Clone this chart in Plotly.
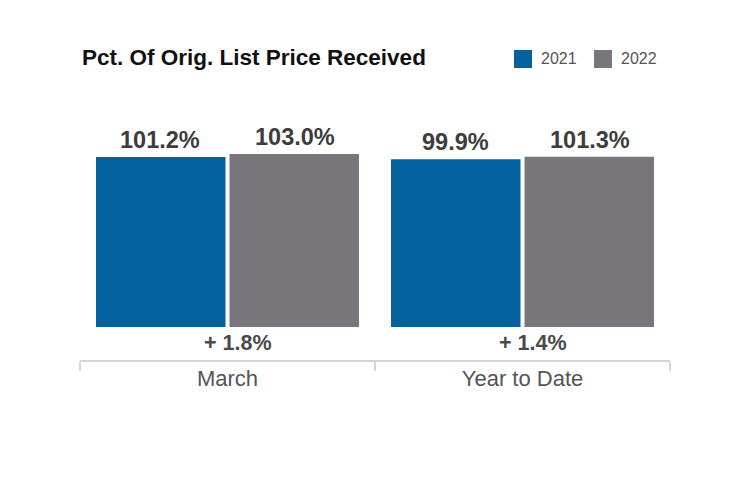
import plotly.graph_objects as go

categories = ["March", "Year to Date"]
series_names = ["2021", "2022"]
values_2021 = [101.2, 99.9]
values_2022 = [103.0, 101.3]
change_labels = ["+ 1.8%", "+ 1.4%"]
title_text = "Pct. Of Orig. List Price Received"

BLUE = "#0462A0"
GRAY = "#78767B"
colors = [BLUE, GRAY]

# page offset (body margin) compensation
OFF = 8
PL, PR, PT, PB = 80 - OFF, 670 - OFF, 100 - OFF, 360 - OFF  # plot area in figure px
W, H = 754, 486

def px_x(x):
    return (x - OFF - PL) / (PR - PL)

def px_y(y):
    return (PB - (y - OFF)) / (PB - PT)

fig = go.Figure()
for name, vals, col in zip(series_names, [values_2021, values_2022], colors):
    fig.add_trace(go.Bar(
        x=categories, y=vals, name=name, marker=dict(color=col, line=dict(width=0)),
        showlegend=False, hoverinfo="skip",
    ))

# value labels above bars
offsets = [-0.2275, 0.2275]
for vals, off in zip([values_2021, values_2022], offsets):
    for i, v in enumerate(vals):
        fig.add_annotation(
            x=i + off, y=v, xref="x", yref="y", text=f"{v:.1f}%",
            showarrow=False, yanchor="bottom", yshift=2,
            font=dict(family="Liberation Sans, Arial, sans-serif", size=23.5, color="#3d3d3d", weight="bold"),
        )

# change labels under groups
for i, t in enumerate(change_labels):
    fig.add_annotation(
        x=i, y=0, xref="x", yref="y", text=t, showarrow=False,
        yanchor="middle", yshift=-16, xshift=10,
        font=dict(family="Liberation Sans, Arial, sans-serif", size=21.5, color="#4a4a4a", weight="bold"),
    )

# title
fig.add_annotation(
    x=px_x(80), y=px_y(58), xref="paper", yref="paper", text=title_text, showarrow=False,
    xanchor="left", yanchor="middle",
    font=dict(family="Liberation Sans Narrow, Arial Narrow, Liberation Sans, sans-serif",
              size=22.5, color="#111111", weight="bold"),
)

# legend (manual)
leg_x = [514, 594]
for name, col, lx in zip(series_names, colors, leg_x):
    fig.add_shape(type="rect", xref="paper", yref="paper",
                  x0=px_x(lx), x1=px_x(lx + 18),
                  y0=px_y(68), y1=px_y(50),
                  fillcolor=col, line=dict(width=0))
    fig.add_annotation(x=px_x(lx + 25), y=px_y(59), xref="paper", yref="paper",
                       text=name, showarrow=False, xanchor="left", yanchor="middle",
                       font=dict(family="Liberation Sans, Arial, sans-serif",
                                 size=16, color="#555555"))

scale = 1.68
y0 = -33 / scale
y1 = y0 + (PB - PT) / scale

fig.update_layout(
    width=W, height=H,
    margin=dict(l=PL, r=W - PR, t=PT, b=H - PB),
    plot_bgcolor="white", paper_bgcolor="white",
    barmode="group", bargap=0.095, bargroupgap=0.03,
    xaxis=dict(
        showline=True, linecolor="#d4d4d4", linewidth=2,
        ticks="outside", tickson="boundaries", ticklen=9, tickcolor="#d4d4d4", tickwidth=2,
        showgrid=False, range=[-0.5, 1.5], ticklabelstandoff=-2,
        tickfont=dict(family="Liberation Sans, Arial, sans-serif", size=22, color="#555555"),
    ),
    yaxis=dict(range=[y0, y1], visible=False, showgrid=False, zeroline=False),
)

fig.write_html("out.html")
